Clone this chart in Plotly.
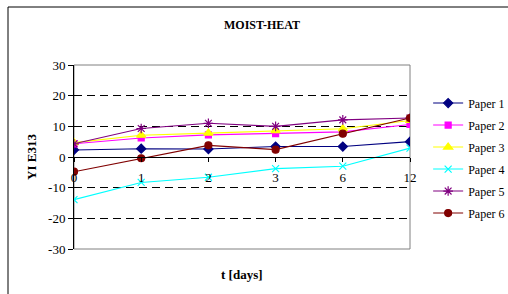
import plotly.graph_objects as go

days = ["0", "1", "2", "3", "6", "12"]
paper1 = [2.3, 2.7, 2.6, 3.4, 3.4, 5.0]
paper2 = [4.3, 6.2, 7.2, 7.6, 8.2, 10.6]
paper3 = [4.7, 7.1, 7.8, 8.6, 9.2, 11.9]
paper4 = [-13.9, -8.3, -6.6, -3.8, -3.0, 2.9]
paper5 = [4.3, 9.3, 11.0, 10.0, 12.1, 12.7]
paper6 = [-4.8, -0.4, 3.8, 2.4, 7.6, 12.7]
y_tickvals = [-30, -20, -10, 0, 10, 20, 30]
y_ticktext = ["-30", "-20", "-10", "0", "10", "20", "30"]

series = [
    ("Paper 1", paper1, "#000080", "diamond", 7),
    ("Paper 2", paper2, "#FF00FF", "square", 6),
    ("Paper 3", paper3, "#FFFF00", "triangle-up", 8),
    ("Paper 4", paper4, "#00FFFF", "x-thin-open", 7),
    ("Paper 5", paper5, "#800080", "asterisk-open", 8),
    ("Paper 6", paper6, "#800000", "circle", 7),
]

fig = go.Figure()
for i, (name, vals, col, sym, sz) in enumerate(series):
    fig.add_trace(go.Scatter(
        x=days, y=vals, name=name, mode="lines+markers",
        line=dict(color=col, width=1.1),
        marker=dict(symbol=sym, size=sz, color=col, line=dict(color=col, width=1.2)),
        legendgroup="g%d" % i,
    ))

font = "Liberation Serif"
fig.update_layout(
    width=508, height=294,
    margin=dict(l=74, r=98, t=65, b=45, autoexpand=False),
    paper_bgcolor="white", plot_bgcolor="white",
    font=dict(family=font, size=13, color="black"),
    title=dict(text="<b>MOIST-HEAT</b>", x=262/508, xanchor="center",
               y=1-25/294, yanchor="middle", yref="container",
               font=dict(family=font, size=12)),
    showlegend=True,
    legend=dict(x=1.054, y=0.872, xanchor="left", yanchor="top",
                font=dict(family=font, size=12), tracegroupgap=3,
                bgcolor="rgba(0,0,0,0)"),
    xaxis=dict(type="category", range=[0, 5], anchor="free", position=0.5,
               showline=True, linecolor="black", linewidth=1,
               ticks="outside", ticklen=4, tickcolor="black",
               ticklabelstandoff=4,
               showgrid=False, zeroline=False,
               tickfont=dict(family=font, size=13)),
    yaxis=dict(range=[-30, 30], tickvals=y_tickvals, ticktext=y_ticktext,
               showline=True, linecolor="black", linewidth=1,
               ticks="outside", ticklen=5, tickcolor="black",
               showgrid=True, gridcolor="black", gridwidth=1, griddash="8px,5px",
               zeroline=True, zerolinecolor="black", zerolinewidth=1,
               title=dict(text="<b>YI E313</b>", standoff=8,
                          font=dict(family=font, size=13)),
               tickfont=dict(family=font, size=13)),
    annotations=[dict(text="<b>t [days]</b>", xref="paper", yref="paper",
                      x=0.5, y=-25/184, xanchor="center", yanchor="middle",
                      showarrow=False, font=dict(family=font, size=13))],
    shapes=[
        dict(type="rect", xref="paper", yref="paper", x0=0, x1=1, y0=0, y1=1,
             line=dict(color="#808080", width=1), layer="below"),
        dict(type="rect", xref="paper", yref="paper",
             x0=(8-74)/336, x1=(530-74)/336, y0=-0.35, y1=(249-7)/184,
             line=dict(color="black", width=1), layer="below"),
    ],
)

fig.write_html("out.html", config={"displayModeBar": False},
               post_script="document.body.style.margin='0';document.body.style.overflow='hidden';")
